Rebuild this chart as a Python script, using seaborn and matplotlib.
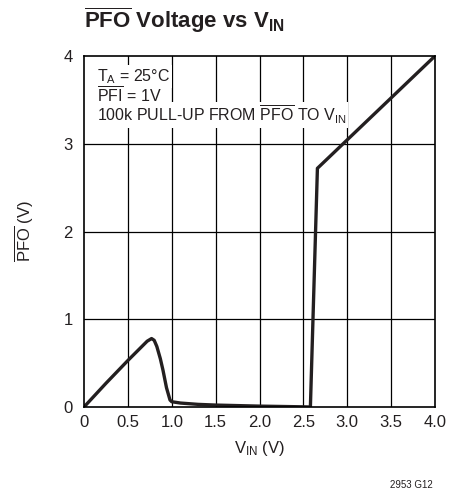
import numpy as np
import pandas as pd
import matplotlib
matplotlib.use("Agg")
import matplotlib.pyplot as plt
import seaborn as sns

# curve
vin = [0.0, 0.25, 0.5, 0.65, 0.72, 0.77, 0.80, 0.83, 0.87, 0.90, 0.94, 0.98, 1.0, 1.1, 1.3, 1.5, 2.0, 2.5, 2.58, 2.66, 4.0]
pfo = [0.0, 0.27, 0.53, 0.68, 0.75, 0.78, 0.76, 0.69, 0.55, 0.42, 0.22, 0.08, 0.06, 0.045, 0.03, 0.022, 0.01, 0.002, 0.0, 2.72, 4.0]
xticks = [0, 0.5, 1.0, 1.5, 2.0, 2.5, 3.0, 3.5, 4.0]
xtick_labels = ["0", "0.5", "1.0", "1.5", "2.0", "2.5", "3.0", "3.5", "4.0"]
yticks = [0, 1, 2, 3, 4]

ink = "#231f20"
sns.set_style("white")
font = "Liberation Sans"
plt.rcParams["font.family"] = [font, "DejaVu Sans"]
plt.rcParams["mathtext.fontset"] = "custom"
plt.rcParams["mathtext.rm"] = font
plt.rcParams["mathtext.it"] = font
plt.rcParams["mathtext.bf"] = font + ":bold"
plt.rcParams["text.color"] = ink
plt.rcParams["axes.labelcolor"] = ink

df = pd.DataFrame({"vin": vin, "pfo": pfo})

fig = plt.figure(figsize=(4.61, 4.93), dpi=100)
ax = fig.add_axes([84 / 461, (493 - 407) / 493, 351 / 461, 351 / 493])

for x in xticks[1:-1]:
    ax.axvline(x, color="black", lw=0.9, zorder=1)
for y in yticks[1:-1]:
    ax.axhline(y, color="black", lw=0.9, zorder=1)

sns.lineplot(data=df, x="vin", y="pfo", color=ink, lw=2.4, estimator=None, ax=ax, zorder=5)

ax.set_xlim(0, 4)
ax.set_ylim(0, 4)
ax.set_xticks(xticks)
ax.set_xticklabels(xtick_labels)
ax.set_yticks(yticks)
ax.tick_params(length=0, labelsize=12, colors=ink)
ax.tick_params(axis="y", pad=8)
ax.tick_params(axis="x", pad=6)
for s in ax.spines.values():
    s.set_color("black")
    s.set_linewidth(1.2)
    s.set_zorder(6)

ax.set_xlabel(r"V$_{\mathrm{IN}}$ (V)", fontsize=12)
ax.set_ylabel(r"$\overline{\mathrm{PFO}}$ (V)", fontsize=12)
ax.xaxis.set_label_coords(0.5, -0.09)
ax.yaxis.set_label_coords(-0.137, 0.5)

box = dict(facecolor="white", edgecolor="none", pad=1.5)
ax.text(0.036, 0.929, r"T$_{\mathrm{A}}$ = 25°C", transform=ax.transAxes,
        fontsize=11.5, va="baseline", bbox=box, zorder=3)
ax.text(0.036, 0.867, r"$\overline{\mathrm{PFI}}$ = 1V", transform=ax.transAxes,
        fontsize=11.5, va="baseline", bbox=box, zorder=3)
ax.text(0.036, 0.813, r"100k PULL-UP FROM $\overline{\mathrm{PFO}}$ TO V$_{\mathrm{IN}}$", transform=ax.transAxes,
        fontsize=11.5, va="baseline", bbox=box, zorder=3)

fig.text(84 / 461, 1 - 28 / 493, r"$\overline{\mathbf{PFO}}$ Voltage vs V$_{\mathbf{IN}}$",
         fontsize=16, fontweight="bold", va="baseline", ha="left")
fig.text(433 / 461, 1 - 488 / 493, "2953 G12", fontsize=7, ha="right", va="baseline")

fig.savefig("out.png", dpi=100)
